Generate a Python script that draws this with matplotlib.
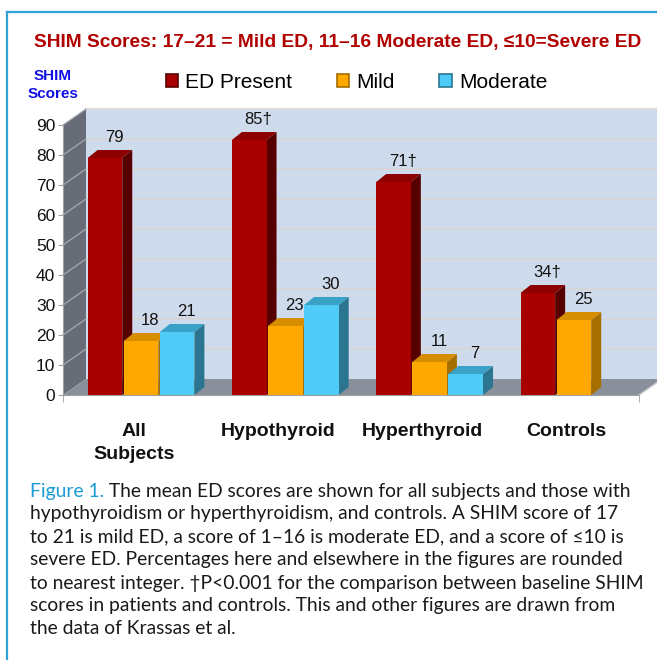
"""
SHIM score bar chart (3D look) with figure caption, saved to out.png
"""

import numpy as np
import matplotlib
matplotlib.use("Agg")
import matplotlib.pyplot as plt
from matplotlib.patches import Polygon, Patch
from matplotlib.lines import Line2D
from matplotlib import font_manager

categories = ["All\nSubjects", "Hypothyroid", "Hyperthyroid", "Controls"]
seriesNames = ["ED Present", "Mild", "Moderate"]
edPresent = [79, 85, 71, 34]
mild = [18, 23, 11, 25]
moderate = [21, 30, 7, np.nan]
edDagger = [False, True, True, True]
yTicks = list(range(0, 100, 10))

titleText = "SHIM Scores: 17\u201321 = Mild ED, 11\u201316 Moderate ED, \u226410=Severe ED"
captionLabel = "Figure 1."
captionLines = [
    " The mean ED scores are shown for all subjects and those with",
    "hypothyroidism or hyperthyroidism, and controls. A SHIM score of 17",
    "to 21 is mild ED, a score of 1\u201316 is moderate ED, and a score of \u226410 is",
    "severe ED. Percentages here and elsewhere in the figures are rounded",
    "to nearest integer. \u2020P<0.001 for the comparison between baseline SHIM",
    "scores in patients and controls. This and other figures are drawn from",
    "the data of Krassas et al.",
]

frontColors = ["#A80000", "#FFA800", "#4FCBF7"]
sideColors = ["#560000", "#A66F00", "#2B7590"]
topColors = ["#8C0000", "#D68E00", "#3AA2C6"]


def pickFont(names):
    for name in names:
        try:
            font_manager.findfont(font_manager.FontProperties(family=name), fallback_to_default=False)
            return name
        except ValueError:
            pass
    return "DejaVu Sans"


narrowFont = pickFont(["Liberation Sans Narrow", "Arial Narrow", "Liberation Sans"])
arialFont = pickFont(["Liberation Sans", "Arial"])
captionFont = pickFont(["Lato", "Open Sans"])

W, H = 657, 660
fig = plt.figure(figsize=(W / 100, H / 100), dpi=100)
renderer = fig.canvas.get_renderer()


def fx(px):
    return px / W


def fy(py):
    return 1 - py / H


# frame around the figure
fig.add_artist(Line2D([fx(6.5), fx(6.5)], [fy(12), 0], color="#2EA3D6", lw=1.6))
fig.add_artist(Line2D([fx(6.5), 1], [fy(12), fy(12)], color="#2EA3D6", lw=1.6))

# title, sized to span the same width as the original
title = fig.text(fx(338), fy(42), titleText, ha="center", va="center", color="#B00000",
                 fontweight="bold", family=[narrowFont, "DejaVu Sans"], fontsize=15)
titleWidth = title.get_window_extent(renderer).width
title.set_fontsize(15 * 610 / titleWidth)

fig.text(fx(53), fy(85), "SHIM\nScores", ha="center", va="center", color="#1010E6",
         fontweight="bold", family=[narrowFont, "DejaVu Sans"], fontsize=11, linespacing=1.35)

# axes: value 0 at pixel 395, value 90 at pixel 125, axis line at pixel 63
ax = fig.add_axes([fx(63), (H - 395) / H, (W - 63) / W, 270 / H])
groupPx, groupStep = 141, 144.3
x0 = (63 - groupPx) / groupStep
x1 = (W - groupPx) / groupStep
xFloorEnd = (639 - groupPx) / groupStep
ax.set_xlim(x0, x1)
ax.set_ylim(0, 90)
ax.patch.set_visible(False)

dxw, dyw = 23 / groupStep, 16 / 3.0   # wall depth
dxb, dyb = 10 / groupStep, 8 / 3.0    # bar depth

# back wall, side wall, floor
ax.add_patch(Polygon([(x0 + dxw, dyw), (x1 + 1, dyw), (x1 + 1, 90 + dyw), (x0 + dxw, 90 + dyw)],
                     facecolor="#CEDBEC", edgecolor="none", zorder=1, clip_on=False))
for v in yTicks[1:]:
    ax.plot([x0 + dxw, x1 + 1], [v + dyw, v + dyw], color="#D6D6D6", lw=1.2, zorder=2, clip_on=False)
ax.plot([x0 + dxw, x1 + 1], [90 + dyw, 90 + dyw], color="#DADADA", lw=1.5, zorder=2, clip_on=False)
ax.add_patch(Polygon([(x0, 0), (x0, 90), (x0 + dxw, 90 + dyw), (x0 + dxw, dyw)],
                     facecolor="#676C77", edgecolor="none", zorder=2, clip_on=False))
for v in yTicks[1:]:
    ax.plot([x0, x0 + dxw], [v, v + dyw], color="#A4A9B1", lw=0.9, zorder=3, clip_on=False)
ax.add_patch(Polygon([(x0, 0), (xFloorEnd, 0), (xFloorEnd + dxw, dyw), (x0 + dxw, dyw)],
                     facecolor="#8A909B", edgecolor="none", zorder=3, clip_on=False))
ax.plot([xFloorEnd, xFloorEnd + dxw], [0, dyw], color="#C8C8C8", lw=1.0, zorder=3, clip_on=False)

# bars with side and top faces
seriesValues = [edPresent, mild, moderate]
offsets = [-0.25, 0.0, 0.25]
barWidth = 0.24
for g in range(len(categories)):
    for s, values in enumerate(seriesValues):
        v = values[g]
        if np.isnan(v):
            continue
        xc = g + offsets[s]
        z = 10 + g * 3 + s
        xl, xr = xc - barWidth / 2, xc + barWidth / 2
        ax.add_patch(Polygon([(xr, 0), (xr + dxb, dyb), (xr + dxb, v + dyb), (xr, v)],
                             facecolor=sideColors[s], edgecolor="none", zorder=z, clip_on=False))
        ax.add_patch(Polygon([(xl, v), (xr, v), (xr + dxb, v + dyb), (xl + dxb, v + dyb)],
                             facecolor=topColors[s], edgecolor="none", zorder=z, clip_on=False))
        ax.bar(xc, v, width=barWidth, color=frontColors[s], edgecolor="none", zorder=z)
        label = f"{v:.0f}" + ("\u2020" if s == 0 and edDagger[g] else "")
        ax.text(xc + dxb / 2 + 0.03, v + dyb + 1.6, label, ha="center", va="bottom",
                fontsize=12, family=arialFont, color="#111111", zorder=40, clip_on=False)

# axes lines and ticks
for side in ["top", "right"]:
    ax.spines[side].set_visible(False)
ax.spines["left"].set_color("#A0A0A0")
ax.spines["bottom"].set_color("#A0A0A0")
ax.spines["bottom"].set_bounds(x0, xFloorEnd)
ax.spines["bottom"].set_zorder(5)
ax.set_yticks(yTicks)
ax.tick_params(axis="y", length=3.5, color="#A0A0A0", pad=2, labelsize=12.5, labelcolor="#111111")
for t in ax.get_yticklabels():
    t.set_family(arialFont)
ax.set_xticks([g - 0.05 for g in range(len(categories))])
ax.set_xticklabels(categories, fontsize=14, fontweight="bold", family=narrowFont, linespacing=1.5)
ax.tick_params(axis="x", length=0, pad=20, labelcolor="#111111")
ax.set_xticks([x0, xFloorEnd], minor=True)
ax.tick_params(axis="x", which="minor", length=5, color="#A0A0A0")

# legend
handles = [Patch(facecolor=frontColors[i], edgecolor=sideColors[i], linewidth=1.2) for i in range(3)]
fig.legend(handles, seriesNames, loc="center left", bbox_to_anchor=(fx(147), fy(82)), ncol=3,
           frameon=False, prop={"family": arialFont, "size": 15},
           handlelength=0.58, handleheight=0.58, handletextpad=0.35, columnspacing=2.15)

# caption
captionY = [491, 514, 537, 560, 583, 606, 629]
captionSize = 13.9
lab = fig.text(fx(30), fy(captionY[0]), captionLabel, ha="left", va="center", color="#1E9AD6",
               family=captionFont, fontsize=captionSize)
labWidth = lab.get_window_extent(renderer).width
for i, line in enumerate(captionLines):
    startPx = 30 + (labWidth if i == 0 else 0)
    fig.text(fx(startPx), fy(captionY[i]), line, ha="left", va="center", color="#1A1A1A",
             family=captionFont, fontsize=captionSize)

fig.savefig("out.png", dpi=100)
